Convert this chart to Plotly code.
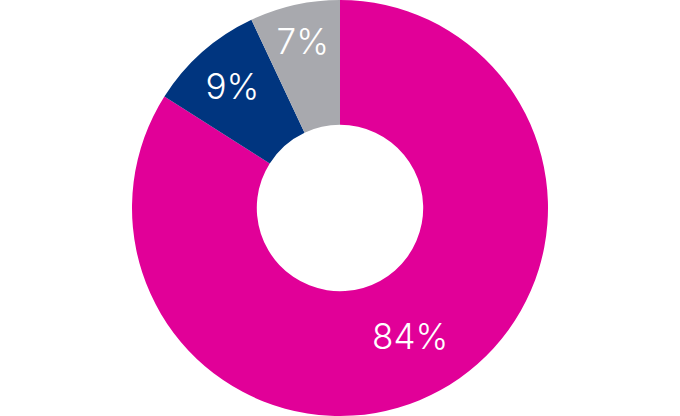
import plotly.graph_objects as go

labels = ["Magenta", "Navy", "Grey"]
values = [84, 9, 7]
text_labels = ["84%", "9%", "7%"]
colors = ["#E10098", "#00357F", "#A8A9AE"]

fig = go.Figure(go.Pie(
    labels=labels,
    values=values,
    text=text_labels,
    textinfo="text",
    textposition="inside",
    insidetextorientation="horizontal",
    hole=0.4,
    sort=False,
    direction="clockwise",
    rotation=0,
    marker=dict(colors=colors, line=dict(width=0)),
    textfont=dict(family="Inter", size=35, color="white", weight=350),
    showlegend=False,
    hoverinfo="skip",
))

fig.update_layout(
    width=680,
    height=416,
    margin=dict(l=0, r=0, t=0, b=0),
    paper_bgcolor="white",
    plot_bgcolor="white",
    uniformtext=dict(minsize=35, mode="show"),
)

# drop the page's default body margin so the chart sits flush in the window
fig.write_html(
    "out.html",
    config={"displayModeBar": False},
    post_script="document.body.style.margin='0';",
)
